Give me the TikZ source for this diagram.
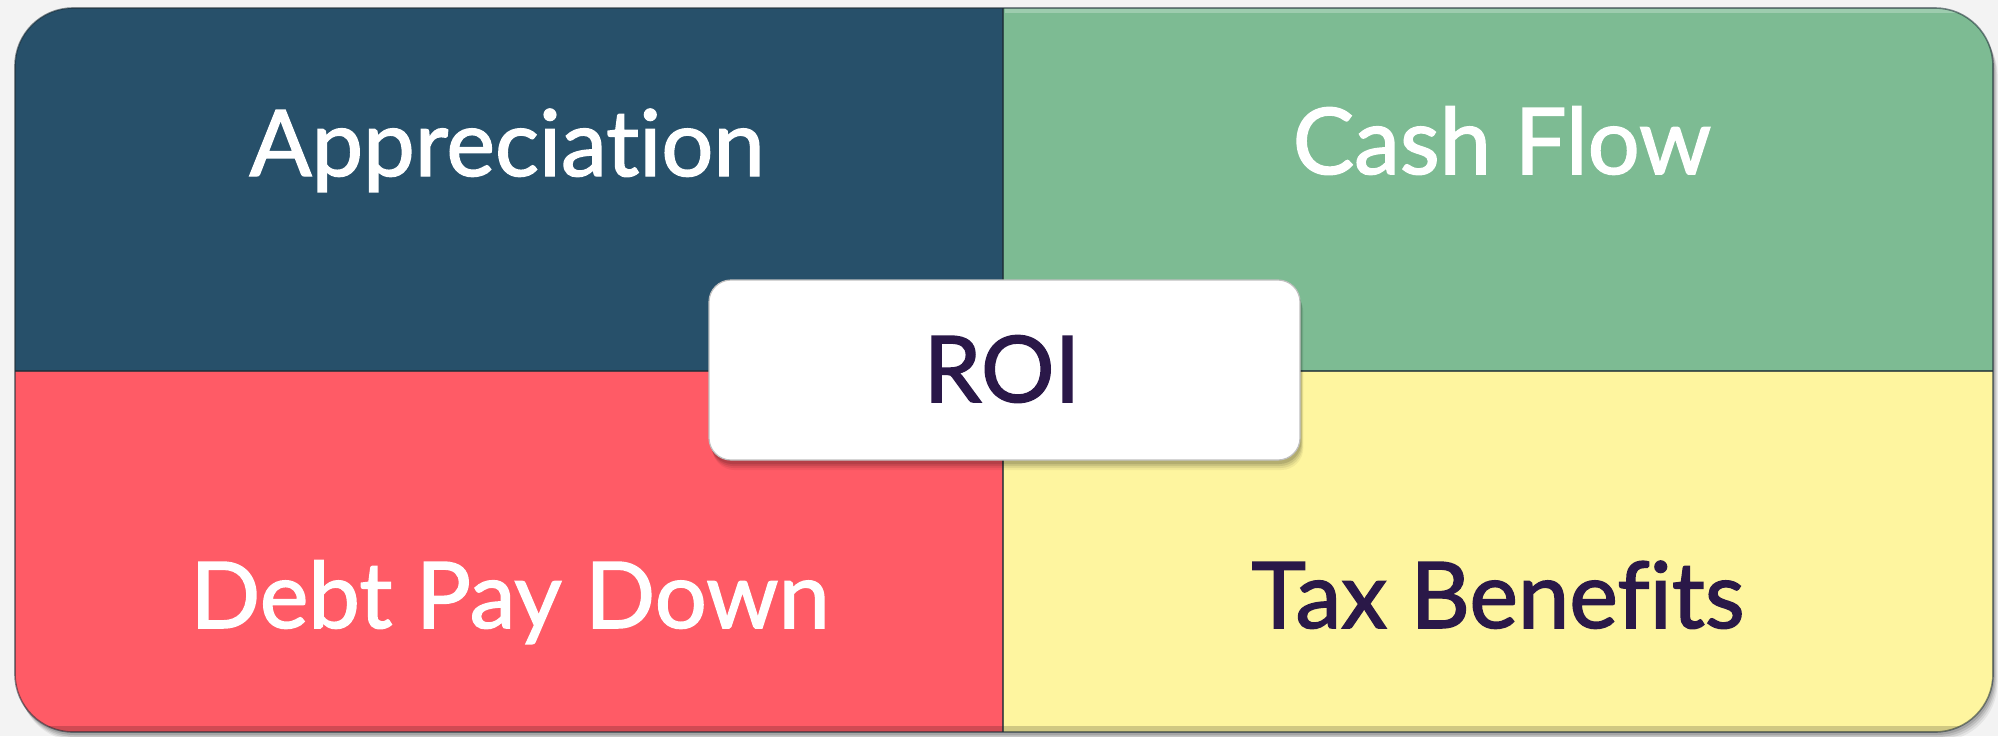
\documentclass[tikz,border=0pt]{standalone}
\usepackage{fontspec}
\setmainfont{Lato}[Ligatures={NoCommon,NoRare}]
\newfontfamily\labelfont{Lato}[Ligatures={NoCommon,NoRare}, FakeBold=1.6]
\usetikzlibrary{shadows}

\definecolor{pagebg}{HTML}{F3F3F3}
\definecolor{appblue}{HTML}{27506A}
\definecolor{cashgreen}{HTML}{7DBB93}
\definecolor{debtred}{HTML}{FF5B66}
\definecolor{taxyellow}{HTML}{FEF59F}
\definecolor{inkpurple}{HTML}{2A1848}
\definecolor{edgedark}{HTML}{1E2E36}

\tikzset{
  quadtext/.style={anchor=base, inner sep=0pt,
    font=\labelfont\fontsize{46}{55}\selectfont},
  lighttext/.style={quadtext, text=white},
  darktext/.style={quadtext, text=inkpurple},
  divider/.style={edgedark, line width=1.4pt, opacity=0.75},
  roibox/.style={fill=white, draw=black!25, line width=0.6pt,
    rounded corners=11pt, minimum width=295.5pt, minimum height=90pt,
    inner sep=0pt},
}

\begin{document}
\begin{tikzpicture}[x=0.5pt, y=-0.5pt]
  \useasboundingbox (0,0) rectangle (1998,736);
  \fill[pagebg] (0,0) rectangle (1998,736);

  % soft shadow under the panel
  \foreach \o/\a in {9/0.06, 7/0.08, 5/0.10, 3/0.12}
    \fill[black, opacity=\a, rounded corners=29pt]
      (15+\o/2,8+\o) rectangle (1993+\o/2,732+\o);

  % the four quadrants, clipped to the rounded panel
  \begin{scope}
    \clip[rounded corners=29pt] (15,8) rectangle (1993,732);
    \fill[appblue]   (15,8)     rectangle (1003,371);
    \fill[cashgreen] (1003,8)   rectangle (1993,371);
    \fill[debtred]   (15,371)   rectangle (1003,732);
    \fill[taxyellow] (1003,371) rectangle (1993,732);
    % bevel highlight along the top and shading along the bottom
    \fill[white, opacity=0.25] (1005,8) rectangle (1993,13);
    \fill[black, opacity=0.18] (15,726) rectangle (1993,732);
    % dividers
    \draw[divider] (1003,8) -- (1003,732);
    \draw[divider] (15,371) -- (1993,371);
  \end{scope}
  \draw[edgedark, opacity=0.55, line width=0.8pt, rounded corners=29pt]
    (15,8) rectangle (1993,732);

  % quadrant labels
  \node[lighttext] (appr) at (507,176) {Appreciation};
  \node[lighttext] (cash) at (1502,174) {Cash Flow};
  \node[lighttext] (debt) at (510,628) {Debt Pay Down};
  \node[darktext]  (tax)  at (1498,628) {Tax Benefits};

  % soft shadow under the ROI box
  \foreach \o/\a in {10/0.05, 8/0.07, 6/0.09, 4/0.11}
    \fill[black, opacity=\a, rounded corners=11pt]
      (709+\o/3,280+\o) rectangle (1300+\o/3,460+\o);
  % central ROI box
  \node[roibox] (roibox) at (1004.5,370) {};
  \node[darktext] (roi) at (1002,402) {ROI};
\end{tikzpicture}
\end{document}
